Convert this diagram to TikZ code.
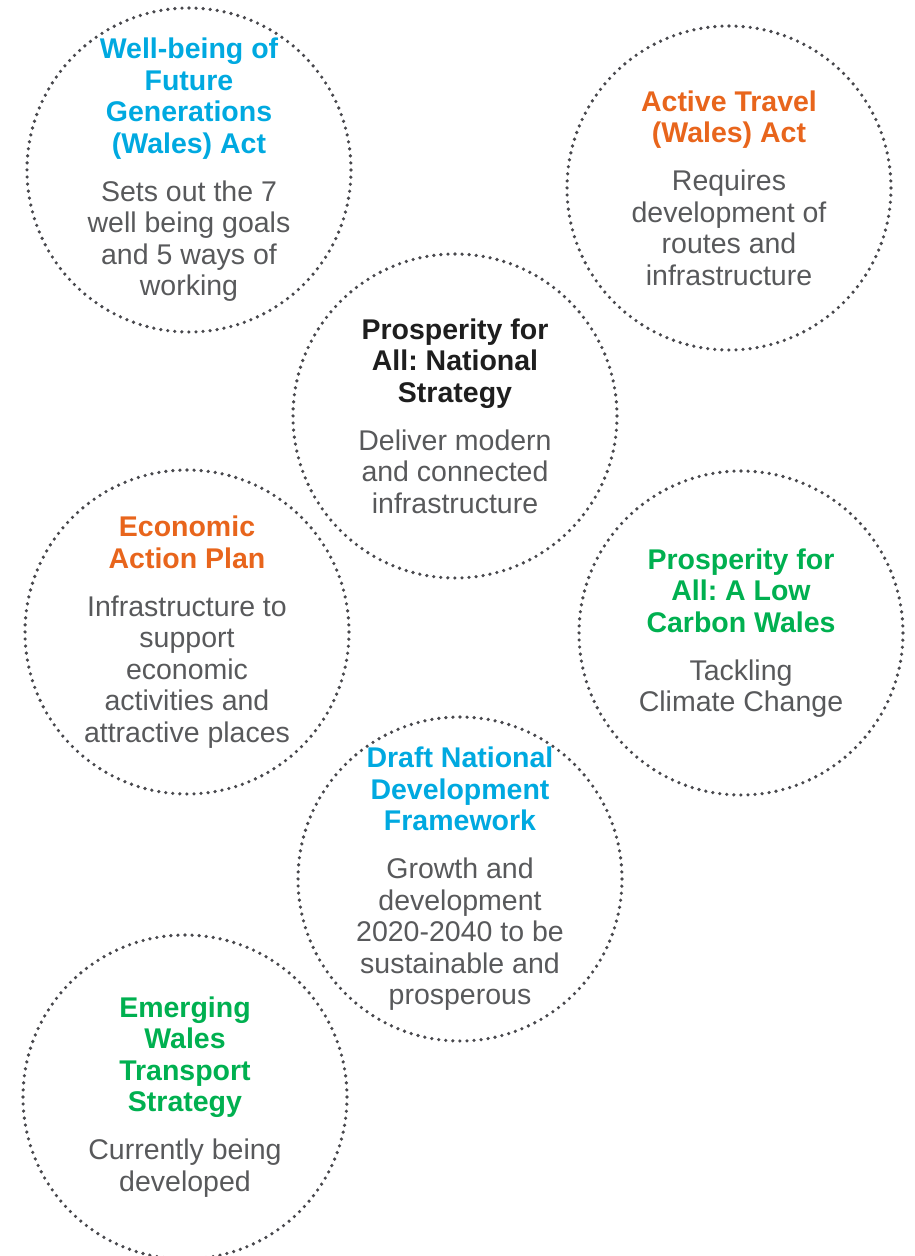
\documentclass[tikz,border=0pt]{standalone}
\usepackage{fontspec}
\setmainfont{Liberation Sans}
\definecolor{tblue}{HTML}{00A9E0}
\definecolor{torange}{HTML}{E8651C}
\definecolor{tgreen}{HTML}{00B050}
\definecolor{tblack}{HTML}{1E1E1E}
\definecolor{bodygray}{HTML}{58595B}
\definecolor{dotgray}{HTML}{48484D}
\newcommand\circtitle[2]{{\bfseries\color{#1}#2\par}\vspace{16.5pt}}
\frenchspacing
\begin{document}
\begin{tikzpicture}[x=1pt,y=-1pt,
  ring/.style={circle, draw=dotgray, line width=3.6pt, dash pattern=on 0pt off 7.0686pt, line cap=round, minimum size=324pt, inner sep=0pt},
  txt/.style={text width=310pt, align=flush center, inner sep=0pt, font=\fontsize{28.5}{31.5}\selectfont\frenchspacing, text=bodygray}
]
\clip (0,0) rectangle (915,1256);
\node[ring] (c1) at (189,170) {};
\node[ring] (c2) at (729,188) {};
\node[ring] (c3) at (455,416) {};
\node[ring] (c4) at (187,632) {};
\node[ring] (c5) at (741,633) {};
\node[ring] (c6) at (460,879) {};
\node[ring] (c7) at (185,1097) {};

\node[txt] (t1) at (c1.center) {\circtitle{tblue}{Well-being of\\Future\\Generations\\(Wales) Act}Sets out the 7\\well being goals\\and 5 ways of\\working};
\node[txt] (t2) at (c2.center) {\circtitle{torange}{Active Travel\\(Wales) Act}Requires\\development of\\routes and\\infrastructure};
\node[txt] (t3) at (c3.center) {\circtitle{tblack}{Prosperity for\\All: National\\Strategy}Deliver modern\\and connected\\infrastructure};
\node[txt] (t4) at (c4.center) {\circtitle{torange}{Economic\\Action Plan}Infrastructure to\\support\\economic\\activities and\\attractive places};
\node[txt] (t5) at (c5.center) {\circtitle{tgreen}{Prosperity for\\All: A Low\\Carbon Wales}Tackling\\Climate Change};
\node[txt] (t6) at (c6.center) {\circtitle{tblue}{Draft National\\Development\\Framework}Growth and\\development\\2020-2040 to be\\sustainable and\\prosperous};
\node[txt] (t7) at (c7.center) {\circtitle{tgreen}{Emerging\\Wales\\Transport\\Strategy}Currently being\\developed};
\end{tikzpicture}
\end{document}
